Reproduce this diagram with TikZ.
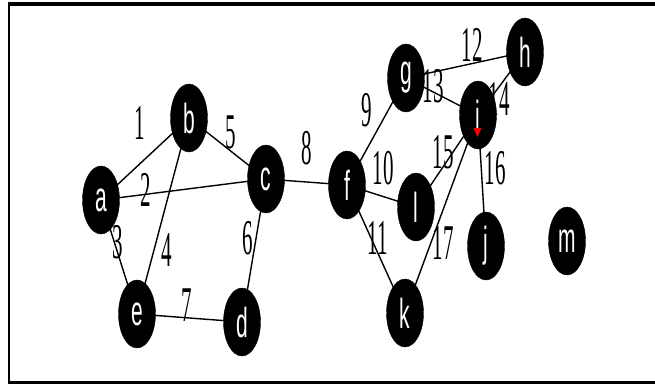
\documentclass[tikz,border=0pt]{standalone}
\usepackage{fontspec}
\setmainfont{Liberation Serif}
\newfontfamily\digfont[FakeStretch=0.42]{Liberation Serif}
\newfontfamily\letfont[FakeStretch=0.5]{Liberation Sans}
\usetikzlibrary{shapes.geometric}
\tikzset{
  vtx/.style={ellipse, fill=black, draw=black, minimum width=37pt, minimum height=68pt, inner sep=0pt,
    text=white, font=\letfont\fontsize{42}{42}\selectfont},
  edge/.style={draw=black, line width=1.4pt},
  lab/.style={inner sep=0pt, font=\digfont\fontsize{50}{50}\selectfont},
}
\begin{document}
\begin{tikzpicture}[x=1pt,y=-1pt]
\useasboundingbox (0,0) rectangle (655,385);
% frame
\draw[line width=4pt] (9,4) -- (655,4);
\draw[line width=2.5pt] (9,2) -- (9,384);
\draw[line width=3pt] (9,382.5) -- (655,382.5);
% node coordinates
\coordinate (pa) at (101,200);
\coordinate (pb) at (189,118);
\coordinate (pc) at (266,179);
\coordinate (pd) at (242,322);
\coordinate (pe) at (137,314);
\coordinate (pf) at (347,185);
\coordinate (pg) at (406,78);
\coordinate (ph) at (525,52);
\coordinate (pi) at (478,115);
\coordinate (pj) at (486,246);
\coordinate (pk) at (405,313);
\coordinate (pl) at (416,207);
\coordinate (pm) at (567,241);
% edges
\draw[edge] (pa) -- (pb);
\draw[edge] (pa) -- (pc);
\draw[edge] (pa) -- (pe);
\draw[edge] (pb) -- (pe);
\draw[edge] (pb) -- (pc);
\draw[edge] (pc) -- (pd);
\draw[edge] (pe) -- (pd);
\draw[edge] (pc) -- (pf);
\draw[edge] (pf) -- (pg);
\draw[edge] (pf) -- (pl);
\draw[edge] (pf) -- (pk);
\draw[edge] (pg) -- (ph);
\draw[edge] (pg) -- (pi);
\draw[edge] (ph) -- (pi);
\draw[edge] (pl) -- (pi);
\draw[edge] (pi) -- (pj);
\draw[edge] (pi) -- (pk);
% edge labels
\node[lab] (w1) at (140,123) {1};
\node[lab] (w2) at (146,190) {2};
\node[lab] (w3) at (118,242) {3};
\node[lab] (w4) at (167,250) {4};
\node[lab] (w5) at (231,132) {5};
\node[lab] (w6) at (248,238) {6};
\node[lab] (w7) at (187,305) {7};
\node[lab] (w8) at (307,148) {8};
\node[lab] (w9) at (367,110) {9};
\node[lab] (w10) at (383,168) {10};
\node[lab] (w11) at (378,238) {11};
\node[lab] (w12) at (472,45) {12};
\node[lab] (w13) at (433,86) {13};
\node[lab] (w14) at (499,99) {14};
\node[lab] (w15) at (443,152) {15};
\node[lab] (w16) at (495,168) {16};
\node[lab] (w17) at (443,243) {17};
% vertices
\node[vtx] (a) at (pa) {a};
\node[vtx] (b) at (pb) {b};
\node[vtx] (c) at (pc) {c};
\node[vtx] (d) at (pd) {d};
\node[vtx] (e) at (pe) {e};
\node[vtx] (f) at (pf) {f};
\node[vtx] (g) at (pg) {g};
\node[vtx] (h) at (ph) {h};
\node[vtx] (i) at (pi) {i};
\node[vtx] (j) at (pj) {j};
\node[vtx] (k) at (pk) {k};
\node[vtx] (l) at (pl) {l};
\node[vtx] (m) at (pm) {m};
% red mark in i
\fill[red] (473.5,128) -- (481.5,128) -- (477.5,137) -- cycle;
\end{tikzpicture}
\end{document}
